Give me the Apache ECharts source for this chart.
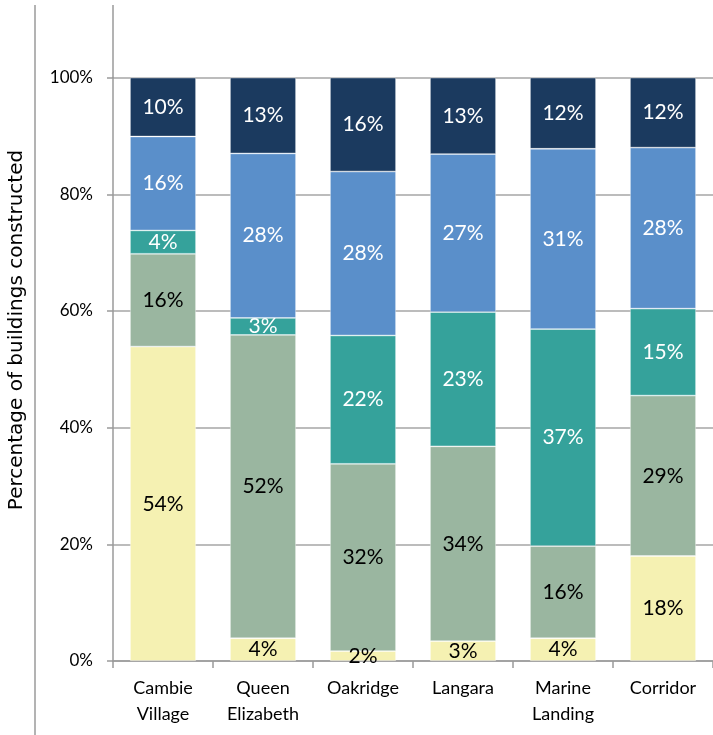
<!DOCTYPE html>
<html>
<head>
<meta charset="utf-8">
<script src="https://cdn.jsdelivr.net/npm/echarts@6/dist/echarts.min.js"></script>
<style>
html,body{margin:0;padding:0;background:#fff;}
#chart{width:713px;height:735px;}
</style>
</head>
<body>
<div id="chart"></div>
<script>
var categories = ['Cambie\nVillage', 'Queen\nElizabeth', 'Oakridge', 'Langara', 'Marine\nLanding', 'Corridor'];
var seriesNames = ['Segment 1', 'Segment 2', 'Segment 3', 'Segment 4', 'Segment 5'];
// bar heights (percent)
var values1 = [53.9, 3.9, 1.7, 3.4, 3.9, 18.0];
var values2 = [15.9, 52.0, 32.1, 33.4, 15.8, 27.5];
var values3 = [4.0, 2.9, 22.0, 23.0, 37.2, 14.9];
var values4 = [16.1, 28.2, 28.1, 27.1, 30.9, 27.6];
var values5 = [10.1, 13.0, 16.1, 13.1, 12.2, 12.0];
// printed labels
var labels1 = [54, 4, 2, 3, 4, 18];
var labels2 = [16, 52, 32, 34, 16, 29];
var labels3 = [4, 3, 22, 23, 37, 15];
var labels4 = [16, 28, 28, 27, 31, 28];
var labels5 = [10, 13, 16, 13, 12, 12];
var yTicks = [0, 20, 40, 60, 80, 100];

var colors = ['#F5F1B2', '#9AB6A0', '#35A29B', '#5A8FCA', '#1B3A5F'];
var labelColors = ['#000', '#000', '#fff', '#fff', '#fff'];
var allValues = [values1, values2, values3, values4, values5];
var allLabels = [labels1, labels2, labels3, labels4, labels5];

var chart = echarts.init(document.getElementById('chart'), null, {renderer: 'canvas'});
var labelFont = 'Lato, "Open Sans", sans-serif';

var series = allValues.map(function (vals, i) {
  return {
    name: seriesNames[i],
    type: 'bar',
    stack: 'total',
    barCategoryGap: '34%',
    data: vals,
    itemStyle: {color: colors[i], borderColor: 'rgba(255,255,255,0.45)', borderWidth: 0.8},
    label: {
      show: true,
      position: 'inside',
      color: labelColors[i],
      fontFamily: labelFont,
      fontSize: 21,
      formatter: function (p) { return allLabels[i][p.dataIndex] + '%'; }
    },
    emphasis: {disabled: true},
    animation: false
  };
});

chart.setOption({
  animation: false,
  grid: {left: 113, right: 0, top: 77.6, bottom: 74, containLabel: false},
  xAxis: {
    type: 'category',
    data: categories,
    axisLine: {show: true, lineStyle: {color: '#9a9a9a', width: 1.5}},
    axisTick: {show: true, length: 7, alignWithLabel: false, lineStyle: {color: '#9a9a9a', width: 1.5}},
    axisLabel: {
      color: '#000', fontFamily: labelFont, fontSize: 18, margin: 14, lineHeight: 26, interval: 0
    }
  },
  yAxis: {
    type: 'value',
    min: 0, max: 100, interval: 20,
    axisLine: {show: true, lineStyle: {color: '#9a9a9a', width: 1.5}},
    axisTick: {show: true, length: 6, lineStyle: {color: '#9a9a9a', width: 1.5}},
    splitLine: {show: true, lineStyle: {color: '#a6a6a6', width: 1.5}},
    axisLabel: {
      color: '#000', fontFamily: labelFont, fontSize: 17, margin: 20,
      formatter: function (v) { return yTicks.indexOf(v) >= 0 ? v + '%' : ''; }
    }
  },
  graphic: [
    {type: 'line', z: 10, shape: {x1: 113, y1: 5, x2: 113, y2: 78}, style: {stroke: '#9a9a9a', lineWidth: 1.5}},
    {type: 'line', z: 10, shape: {x1: 35, y1: 5, x2: 35, y2: 735}, style: {stroke: '#9a9a9a', lineWidth: 1.5}},
    {
      type: 'text', z: 10, x: 17, y: 330, rotation: Math.PI / 2,
      style: {
        text: 'Percentage of buildings constructed',
        fontFamily: '"DejaVu Sans", sans-serif', fontSize: 20, fill: '#000',
        textAlign: 'center', textVerticalAlign: 'middle'
      }
    }
  ],
  series: series
});
</script>
</body>
</html>
